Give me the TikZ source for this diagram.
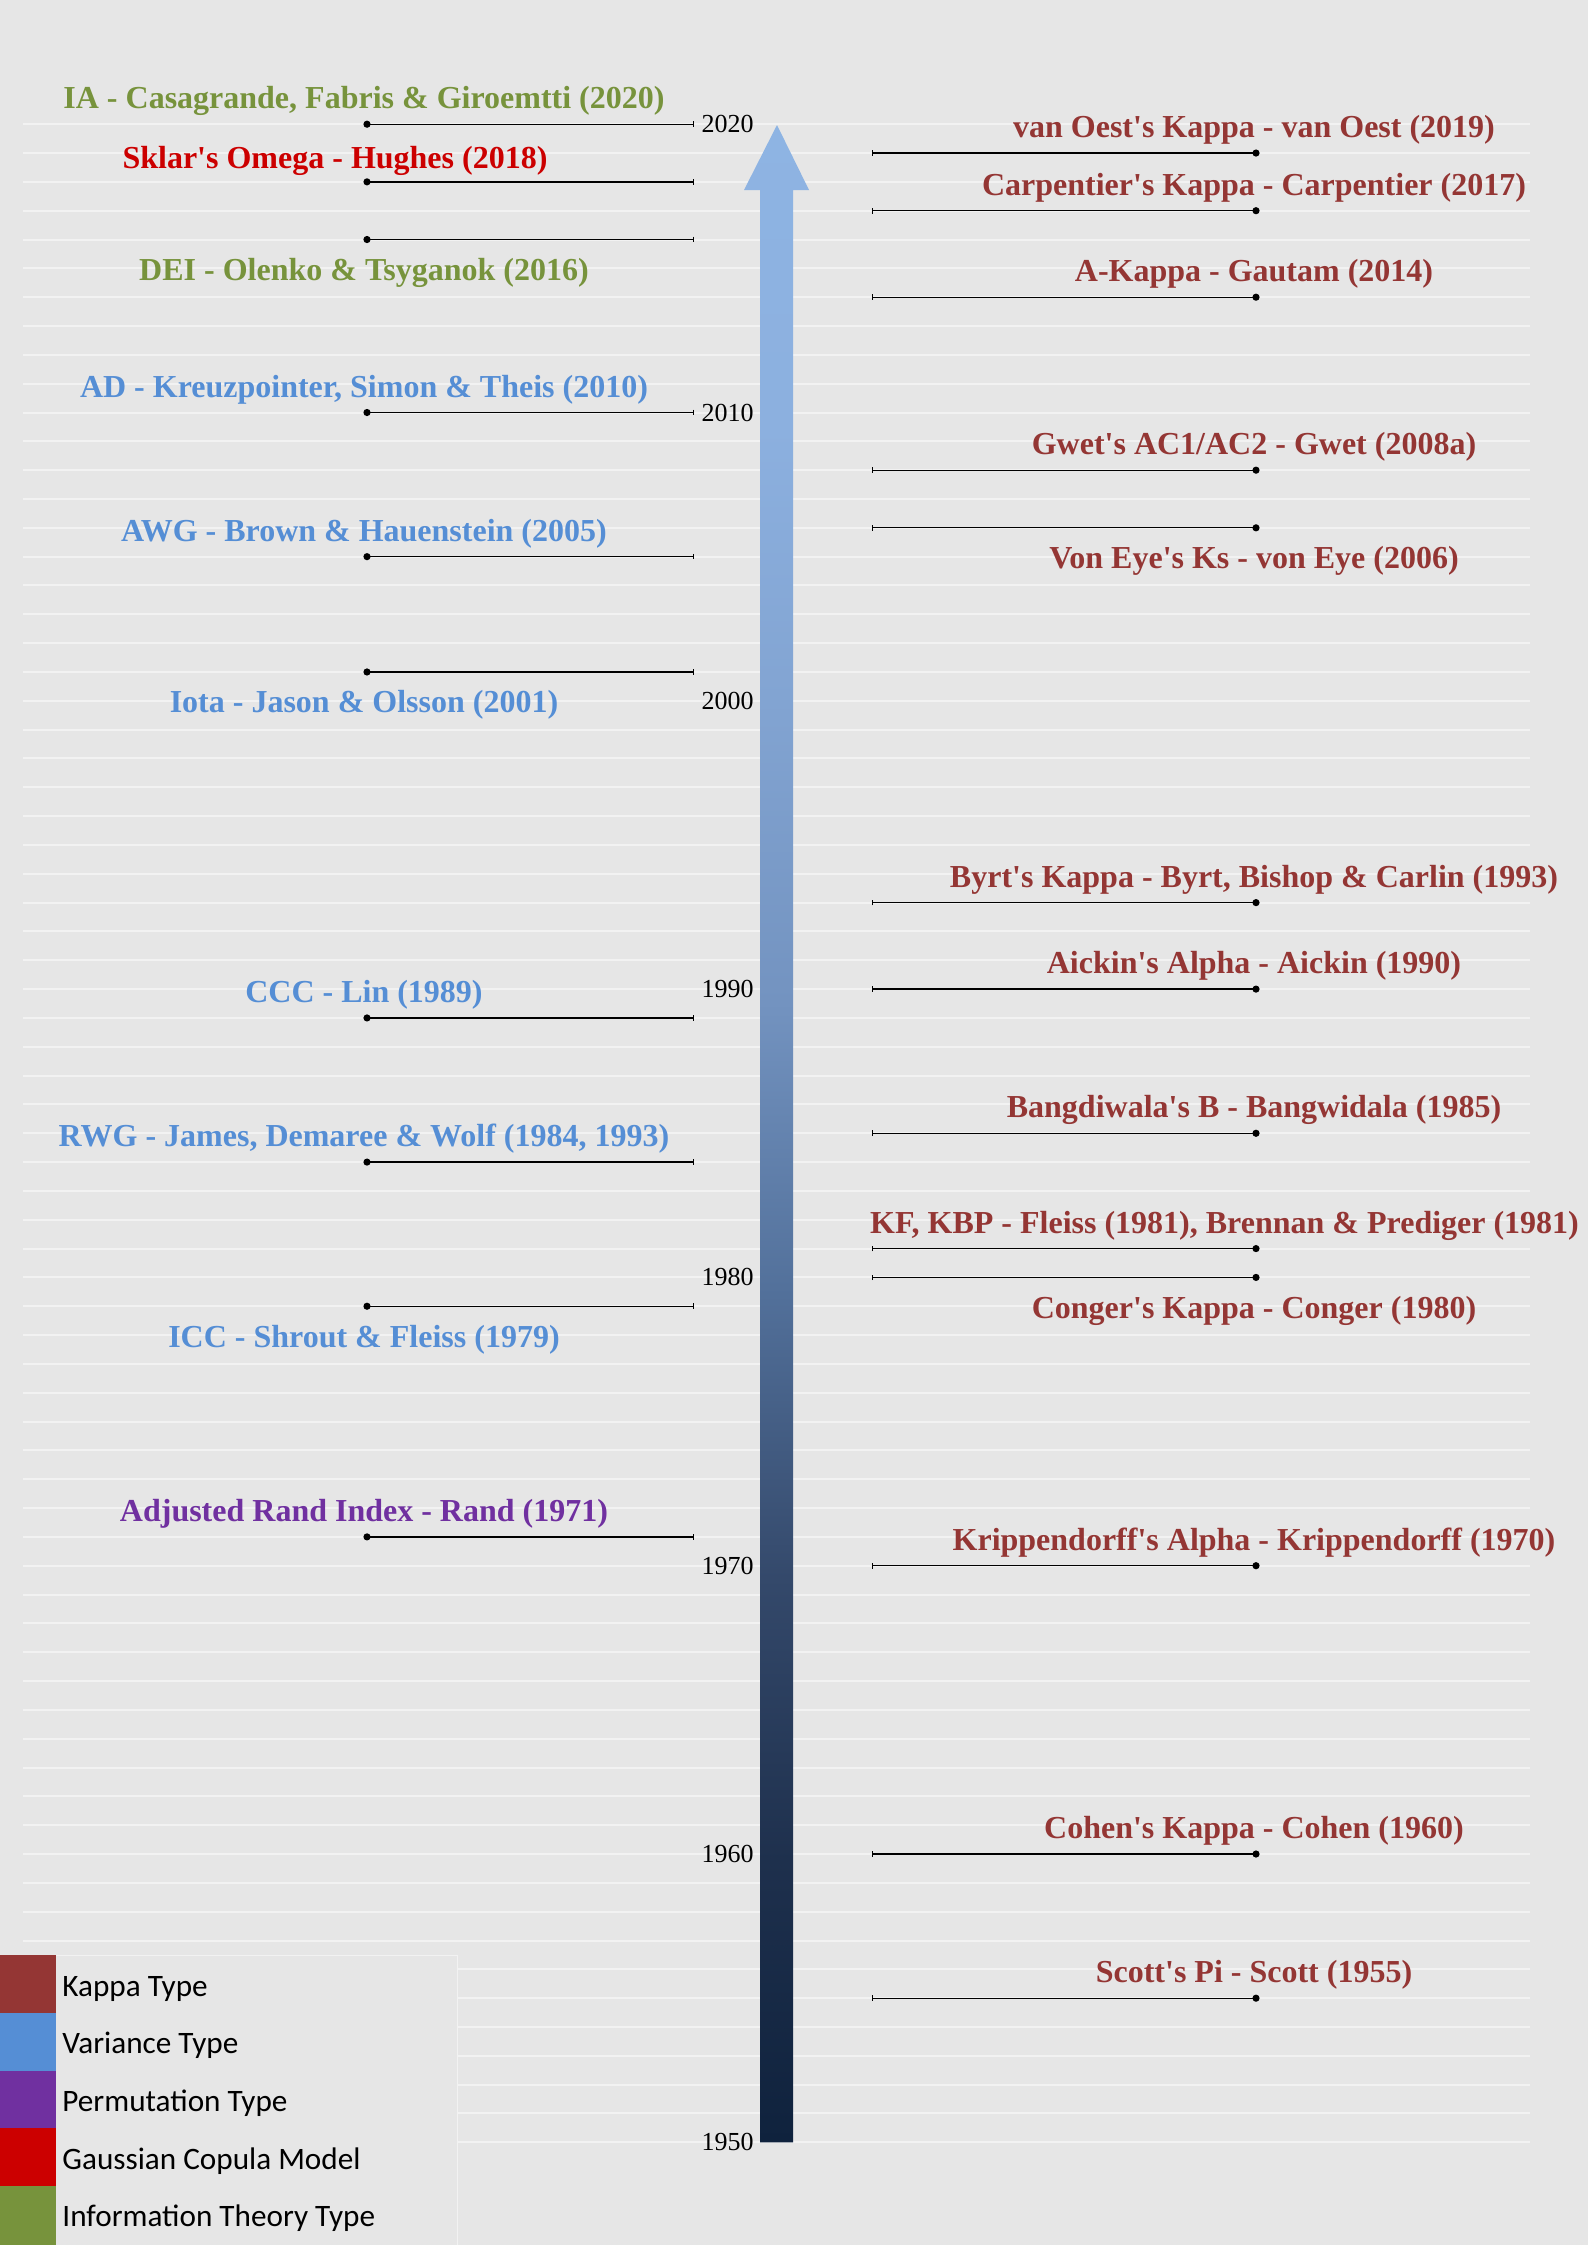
\documentclass[tikz,border=0pt]{standalone}
\usepackage{fontspec}
\setmainfont{Liberation Serif}[Ligatures=TeXOff]
\newfontfamily\legfont{Carlito}
\usetikzlibrary{arrows.meta}
\definecolor{bgc}{HTML}{E6E6E6}
\definecolor{gridc}{HTML}{F2F2F2}
\definecolor{kapc}{HTML}{943634}
\definecolor{varc}{HTML}{558ED5}
\definecolor{permc}{HTML}{7030A0}
\definecolor{gauc}{HTML}{CC0000}
\definecolor{infc}{HTML}{77933C}
\definecolor{sc0}{HTML}{0F223D}
\definecolor{sc1}{HTML}{1E304D}
\definecolor{sc2}{HTML}{34496B}
\definecolor{sc3}{HTML}{52709A}
\definecolor{sc4}{HTML}{7393C0}
\definecolor{sc5}{HTML}{82A4D2}
\definecolor{sc6}{HTML}{8CB0DF}
\definecolor{sc7}{HTML}{8EB4E3}
\pgfdeclareverticalshading{arrowshade}{100bp}{color(0bp)=(sc0); color(25bp)=(sc0); color(32bp)=(sc1); color(39bp)=(sc2); color(46bp)=(sc3); color(53.25bp)=(sc4); color(60.75bp)=(sc5); color(67.5bp)=(sc6); color(75bp)=(sc7); color(100bp)=(sc7)}
\begin{document}
\begin{tikzpicture}[x=0.5pt,y=-0.5pt,
  gridline/.style={draw=gridc, line width=1pt},
  connline/.style={draw=black, line width=0.65pt, -{Bar[width=2.8pt,line width=0.65pt]}},
  entrydot/.style={circle, fill=black, inner sep=0pt, minimum size=3.6pt},
  lbl/.style={font=\fontsize{16}{19}\selectfont\bfseries, inner sep=0pt, anchor=base},
  lblA/.style={lbl, yshift=7.75pt},
  lblB/.style={lbl, yshift=-20.5pt},
  lft/.style={xshift=-1.5pt},
  rgt/.style={xshift=-1pt},
  yearlbl/.style={font=\fontsize{13}{15}\selectfont, inner sep=0pt, anchor=east},
  legtxt/.style={font=\legfont\fontsize{15.6}{18}\selectfont, inner sep=0pt, anchor=base west}]
% background
\fill[bgc] (0,0) rectangle (1588,2245);
\useasboundingbox (0,0) rectangle (1588,2245);
% grid lines (one per year 1950..2020)
\foreach \n in {0,...,70}{
  \draw[gridline] (23,{2142.3-\n*28.83}) -- (1530,{2142.3-\n*28.83});
}
% legend
\fill[bgc] (56,1955.3) rectangle (457,2245);
\draw[gridc, line width=0.5pt] (56,1955.3) -- (457,1955.3) -- (457,2245);
\fill[kapc]  (0,1955.3) rectangle (56,2013);
\fill[varc]  (0,2013) rectangle (56,2070.7);
\fill[permc] (0,2070.7) rectangle (56,2128.4);
\fill[gauc]  (0,2128.4) rectangle (56,2186.1);
\fill[infc]  (0,2186.1) rectangle (56,2245);
\node[legtxt] (lg1) at (62,1996) {Kappa Type};
\node[legtxt] (lg2) at (62,2053.5) {Variance Type};
\node[legtxt] (lg3) at (62,2111) {Permutation Type};
\node[legtxt] (lg4) at (62,2169) {Gaussian Copula Model};
\node[legtxt] (lg5) at (62,2226.5) {Information Theory Type};
% arrow
\shade[shading=arrowshade] (760,2142.3) -- (760,190) -- (744,190) -- (777,125) -- (809,190) -- (793,190) -- (793,2142.3) -- cycle;
% year labels
\node[yearlbl] (y2020) at (754,124.2) {2020};
\node[yearlbl] (y2010) at (754,412.5) {2010};
\node[yearlbl] (y2000) at (754,700.8) {2000};
\node[yearlbl] (y1990) at (754,989.1) {1990};
\node[yearlbl] (y1980) at (754,1277.4) {1980};
\node[yearlbl] (y1970) at (754,1565.7) {1970};
\node[yearlbl] (y1960) at (754,1854.0) {1960};
\node[yearlbl] (y1950) at (754,2142.3) {1950};
% ---------- left entries ----------
\coordinate (lt1) at (694,124.2);   \node[entrydot] (ld1) at (367,124.2) {};
\coordinate (lt2) at (694,181.86);  \node[entrydot] (ld2) at (367,181.86) {};
\coordinate (lt3) at (694,239.52);  \node[entrydot] (ld3) at (367,239.52) {};
\coordinate (lt4) at (694,412.5);   \node[entrydot] (ld4) at (367,412.5) {};
\coordinate (lt5) at (694,556.65);  \node[entrydot] (ld5) at (367,556.65) {};
\coordinate (lt6) at (694,671.97);  \node[entrydot] (ld6) at (367,671.97) {};
\coordinate (lt7) at (694,1017.93); \node[entrydot] (ld7) at (367,1017.93) {};
\coordinate (lt8) at (694,1162.08); \node[entrydot] (ld8) at (367,1162.08) {};
\coordinate (lt9) at (694,1306.23); \node[entrydot] (ld9) at (367,1306.23) {};
\coordinate (lt10) at (694,1536.87); \node[entrydot] (ld10) at (367,1536.87) {};
\foreach \i in {1,...,10}{ \draw[connline] (ld\i.center) -- (lt\i); }
\node[lblA, lft, infc]  (ll1) at (ld1) {IA - Casagrande, Fabris \& Giroemtti (2020)};
\node[lblA, gauc, xshift=-16pt, yshift=-1pt] (ll2) at (ld2) {Sklar's Omega - Hughes (2018)};
\node[lblB, lft, infc]  (ll3) at (ld3) {DEI - Olenko \& Tsyganok (2016)};
\node[lblA, lft, varc]  (ll4) at (ld4) {AD - Kreuzpointer, Simon \& Theis (2010)};
\node[lblA, lft, varc]  (ll5) at (ld5) {AWG - Brown \& Hauenstein (2005)};
\node[lblB, lft, varc]  (ll6) at (ld6) {Iota - Jason \& Olsson (2001)};
\node[lblA, lft, varc]  (ll7) at (ld7) {CCC - Lin (1989)};
\node[lblA, lft, varc]  (ll8) at (ld8) {RWG - James, Demaree \& Wolf (1984, 1993)};
\node[lblB, lft, varc]  (ll9) at (ld9) {ICC - Shrout \& Fleiss (1979)};
\node[lblA, lft, permc] (ll10) at (ld10) {Adjusted Rand Index - Rand (1971)};
% ---------- right entries ----------
\coordinate (rt1) at (872,153.03);   \node[entrydot] (rd1) at (1256,153.03) {};
\coordinate (rt2) at (872,210.69);   \node[entrydot] (rd2) at (1256,210.69) {};
\coordinate (rt3) at (872,297.18);   \node[entrydot] (rd3) at (1256,297.18) {};
\coordinate (rt4) at (872,470.16);   \node[entrydot] (rd4) at (1256,470.16) {};
\coordinate (rt5) at (872,527.82);   \node[entrydot] (rd5) at (1256,527.82) {};
\coordinate (rt6) at (872,902.61);   \node[entrydot] (rd6) at (1256,902.61) {};
\coordinate (rt7) at (872,989.1);    \node[entrydot] (rd7) at (1256,989.1) {};
\coordinate (rt8) at (872,1133.25);  \node[entrydot] (rd8) at (1256,1133.25) {};
\coordinate (rt9) at (872,1248.57);  \node[entrydot] (rd9) at (1256,1248.57) {};
\coordinate (rt10) at (872,1277.4);  \node[entrydot] (rd10) at (1256,1277.4) {};
\coordinate (rt11) at (872,1565.7);  \node[entrydot] (rd11) at (1256,1565.7) {};
\coordinate (rt12) at (872,1854.0);  \node[entrydot] (rd12) at (1256,1854.0) {};
\coordinate (rt13) at (872,1998.15); \node[entrydot] (rd13) at (1256,1998.15) {};
\foreach \i in {1,...,13}{ \draw[connline] (rd\i.center) -- (rt\i); }
\node[lblA, rgt, kapc] (rl1) at (rd1) {van Oest's Kappa - van Oest (2019)};
\node[lblA, rgt, kapc] (rl2) at (rd2) {Carpentier's Kappa - Carpentier (2017)};
\node[lblA, rgt, kapc] (rl3) at (rd3) {A-Kappa - Gautam (2014)};
\node[lblA, rgt, kapc] (rl4) at (rd4) {Gwet's AC1/AC2 - Gwet (2008a)};
\node[lblB, rgt, kapc] (rl5) at (rd5) {Von Eye's Ks - von Eye (2006)};
\node[lblA, rgt, kapc] (rl6) at (rd6) {Byrt's Kappa - Byrt, Bishop \& Carlin (1993)};
\node[lblA, rgt, kapc] (rl7) at (rd7) {Aickin's Alpha - Aickin (1990)};
\node[lblA, rgt, kapc] (rl8) at (rd8) {Bangdiwala's B - Bangwidala (1985)};
\node[lblA, kapc, xshift=-15.75pt] (rl9) at (rd9) {KF, KBP - Fleiss (1981), Brennan \& Prediger (1981)};
\node[lblB, rgt, kapc] (rl10) at (rd10) {Conger's Kappa - Conger (1980)};
\node[lblA, rgt, kapc] (rl11) at (rd11) {Krippendorff's Alpha - Krippendorff (1970)};
\node[lblA, rgt, kapc] (rl12) at (rd12) {Cohen's Kappa - Cohen (1960)};
\node[lblA, rgt, kapc] (rl13) at (rd13) {Scott's Pi - Scott (1955)};
\end{tikzpicture}
\end{document}
